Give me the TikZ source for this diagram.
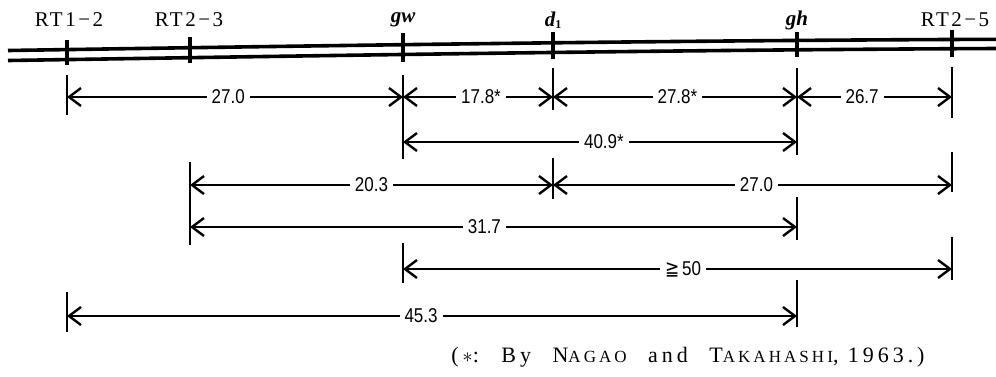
\documentclass[tikz,border=0pt]{standalone}
\usepackage{fontspec}
\usepackage{graphicx}
\setmainfont{Liberation Serif}
\newfontfamily\dimfont{Liberation Sans}
\newfontfamily\symfont{DejaVu Sans}
\newfontfamily\spfont[LetterSpace=12]{Liberation Serif}
\newfontfamily\notefont[LetterSpace=18]{Liberation Serif}
\newcommand\dl[1]{\scalebox{0.85}[1]{#1}}
\usetikzlibrary{arrows.meta}
\tikzset{
  barb/.tip={Straight Barb[length=12pt,width=18pt,line width=2.4pt]},
  dimline/.style={line width=2pt,barb-barb},
  extline/.style={line width=2.2pt},
  trackline/.style={line width=3.6pt},
  ticktrack/.style={line width=4.4pt},
  lbl/.style={fill=white,inner xsep=5pt,inner ysep=1pt,font=\dimfont\fontsize{20}{20}\selectfont},
  toplbl/.style={font=\spfont\fontsize{21}{21}\selectfont,inner sep=0pt},
  ptlbl/.style={font=\fontsize{21}{21}\selectfont\bfseries\itshape,inner sep=0pt},
  note/.style={font=\notefont\fontsize{22}{22}\selectfont,inner sep=0pt}
}
\begin{document}
\begin{tikzpicture}[x=1pt,y=-1pt]
\useasboundingbox (0,0) rectangle (996,376);
% track
\draw[trackline] (8,50.5) .. controls (330,45.5) and (660,40.5) .. (996,39.3);
\draw[trackline] (8,60.5) .. controls (330,55.5) and (660,50) .. (996,48.5);
% ticks on track
\draw[ticktrack] (67,40) coordinate (k1a) -- (67,65) coordinate (k1b);
\draw[ticktrack] (190,37) coordinate (k2a) -- (190,63) coordinate (k2b);
\draw[ticktrack] (403,33) coordinate (k3a) -- (403,62) coordinate (k3b);
\draw[ticktrack] (553,32) coordinate (k4a) -- (553,59) coordinate (k4b);
\draw[ticktrack] (797,32) coordinate (k5a) -- (797,57) coordinate (k5b);
\draw[ticktrack] (952,30) coordinate (k6a) -- (952,57) coordinate (k6b);
% top labels
\node[toplbl] (lrt12) at (69,20) {RT1−2};
\node[toplbl] (lrt23) at (189,20) {RT2−3};
\node[ptlbl] (lgw) at (403,20) {gw};
\node[ptlbl] (ld1) at (553,20) {d\raisebox{-2pt}{\fontsize{12}{12}\selectfont\upshape 1}};
\node[ptlbl] (lgh) at (797,20) {gh};
\node[toplbl] (lrt25) at (955,20) {RT2−5};
% extension lines
\draw[extline] (67,75) coordinate (e1a) -- (67,115) coordinate (e1b);
\draw[extline] (403,75) coordinate (e2a) -- (403,159) coordinate (e2b);
\draw[extline] (553,68) coordinate (e3a) -- (553,110) coordinate (e3b);
\draw[extline] (797,68) coordinate (e4a) -- (797,155) coordinate (e4b);
\draw[extline] (952,67) coordinate (e5a) -- (952,118) coordinate (e5b);
\draw[extline] (190,162) coordinate (e6a) -- (190,245) coordinate (e6b);
\draw[extline] (553,158) coordinate (e7a) -- (553,199) coordinate (e7b);
\draw[extline] (952,152) coordinate (e8a) -- (952,192) coordinate (e8b);
\draw[extline] (797,197) coordinate (e9a) -- (797,240) coordinate (e9b);
\draw[extline] (403,243) coordinate (e10a) -- (403,283) coordinate (e10b);
\draw[extline] (952,237) coordinate (e11a) -- (952,280) coordinate (e11b);
\draw[extline] (67,292) coordinate (e12a) -- (67,332) coordinate (e12b);
\draw[extline] (797,280) coordinate (e13a) -- (797,327) coordinate (e13b);
% dimension end points
\coordinate (r1a) at (67,97);  \coordinate (r1b) at (403,97);
\coordinate (r1c) at (553,97); \coordinate (r1d) at (797,97);
\coordinate (r1e) at (952,97);
\coordinate (r2a) at (403,142); \coordinate (r2b) at (797,142);
\coordinate (r3a) at (190,185); \coordinate (r3b) at (553,185); \coordinate (r3c) at (952,185);
\coordinate (r4a) at (190,227); \coordinate (r4b) at (797,227);
\coordinate (r5a) at (403,269); \coordinate (r5b) at (952,269);
\coordinate (r6a) at (67,316);  \coordinate (r6b) at (797,316);
% dimension lines
\draw[dimline] (r1a) -- node[lbl,pos=.48] (d1) {\dl{27.0}} (r1b);
\draw[dimline] (r1b) -- node[lbl,pos=.52] (d2) {\dl{17.8*}} (r1c);
\draw[dimline] (r1c) -- node[lbl,pos=.51] (d3) {\dl{27.8*}} (r1d);
\draw[dimline] (r1d) -- node[lbl,pos=.42] (d4) {\dl{26.7}} (r1e);
\draw[dimline] (r2a) -- node[lbl,pos=.51] (d5) {\dl{40.9*}} (r2b);
\draw[dimline] (r3a) -- node[lbl,pos=.50] (d6) {\dl{20.3}} (r3b);
\draw[dimline] (r3b) -- node[lbl,pos=.51] (d7) {\dl{27.0}} (r3c);
\draw[dimline] (r4a) -- node[lbl,pos=.485] (d8) {\dl{31.7}} (r4b);
\draw[dimline] (r5a) -- node[lbl,pos=.51] (d9) {\dl{{\symfont ≧}\,50}} (r5b);
\draw[dimline] (r6a) -- node[lbl,pos=.485] (d10) {\dl{45.3}} (r6b);
% footnote
\node[note] (fn) at (688,357) {(\,$\ast$:\hspace{10pt} By\hspace{12pt} N{\fontsize{17}{17}\selectfont AGAO}\hspace{12pt} and\hspace{12pt} T{\fontsize{17}{17}\selectfont AKAHASHI}, 1963.)};
\end{tikzpicture}
\end{document}
